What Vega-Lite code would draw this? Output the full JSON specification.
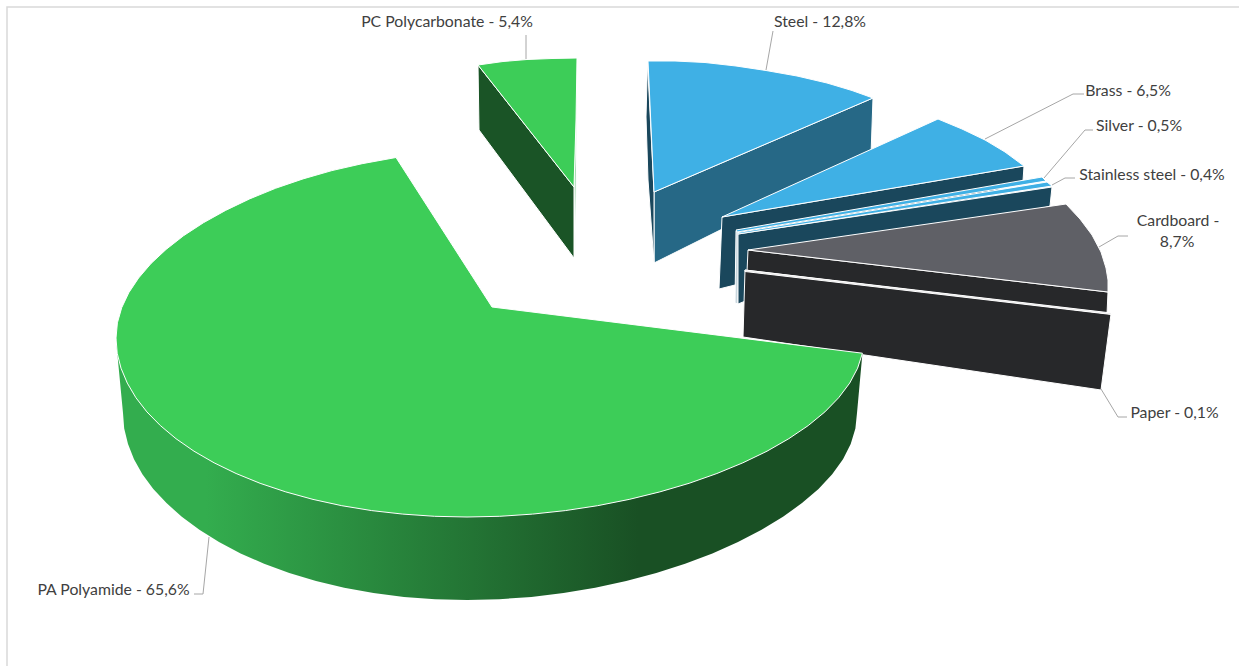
{
  "$schema": "https://vega.github.io/schema/vega-lite/v6.json",
  "width": 1239,
  "height": 666,
  "padding": 0,
  "autosize": {"type": "none"},
  "background": "white",
  "config": {"view": {"stroke": null}},
  "datasets": {
    "frame": [
      {"x": 7, "y": 666}, {"x": 7, "y": 7}, {"x": 1239, "y": 7}
    ],
    "slices": [
      {"shape": "steel side", "surface": "steel side", "x": 654, "y": 192},
      {"shape": "steel side", "surface": "steel side", "x": 873, "y": 98},
      {"shape": "steel side", "surface": "steel side", "x": 871, "y": 155},
      {"shape": "steel side", "surface": "steel side", "x": 654, "y": 263},
      {"shape": "steel side", "surface": "steel side", "x": 654, "y": 192},
      {"shape": "steel inner", "surface": "deep side", "x": 647.5, "y": 62},
      {"shape": "steel inner", "surface": "deep side", "x": 654, "y": 192},
      {"shape": "steel inner", "surface": "deep side", "x": 654, "y": 263},
      {"shape": "steel inner", "surface": "deep side", "x": 648, "y": 180},
      {"shape": "steel inner", "surface": "deep side", "x": 646, "y": 117},
      {"shape": "steel inner", "surface": "deep side", "x": 647.5, "y": 62},
      {"shape": "steel top", "surface": "blue top", "x": 648, "y": 61},
      {"shape": "steel top", "surface": "blue top", "x": 675, "y": 61},
      {"shape": "steel top", "surface": "blue top", "x": 705, "y": 62.5},
      {"shape": "steel top", "surface": "blue top", "x": 736, "y": 66},
      {"shape": "steel top", "surface": "blue top", "x": 766, "y": 70.5},
      {"shape": "steel top", "surface": "blue top", "x": 797, "y": 76},
      {"shape": "steel top", "surface": "blue top", "x": 827, "y": 83},
      {"shape": "steel top", "surface": "blue top", "x": 852, "y": 90.5},
      {"shape": "steel top", "surface": "blue top", "x": 873, "y": 98},
      {"shape": "steel top", "surface": "blue top", "x": 654, "y": 192},
      {"shape": "steel top", "surface": "blue top", "x": 648, "y": 61},
      {"shape": "brass side", "surface": "deep side", "x": 722, "y": 217},
      {"shape": "brass side", "surface": "deep side", "x": 1024, "y": 166},
      {"shape": "brass side", "surface": "deep side", "x": 1023, "y": 181},
      {"shape": "brass side", "surface": "deep side", "x": 735, "y": 285},
      {"shape": "brass side", "surface": "deep side", "x": 719, "y": 289},
      {"shape": "brass side", "surface": "deep side", "x": 722, "y": 217},
      {"shape": "brass top", "surface": "blue top", "x": 722, "y": 217},
      {"shape": "brass top", "surface": "blue top", "x": 938, "y": 119},
      {"shape": "brass top", "surface": "blue top", "x": 962, "y": 129},
      {"shape": "brass top", "surface": "blue top", "x": 985, "y": 140},
      {"shape": "brass top", "surface": "blue top", "x": 1005, "y": 152},
      {"shape": "brass top", "surface": "blue top", "x": 1024, "y": 166},
      {"shape": "brass top", "surface": "blue top", "x": 722, "y": 217},
      {"shape": "silver inner", "surface": "pale", "x": 736, "y": 231},
      {"shape": "silver inner", "surface": "pale", "x": 739, "y": 232},
      {"shape": "silver inner", "surface": "pale", "x": 738, "y": 304},
      {"shape": "silver inner", "surface": "pale", "x": 735, "y": 303},
      {"shape": "silver inner", "surface": "pale", "x": 736, "y": 231},
      {"shape": "silver top", "surface": "blue top", "x": 736, "y": 230},
      {"shape": "silver top", "surface": "blue top", "x": 1042, "y": 177},
      {"shape": "silver top", "surface": "blue top", "x": 1046, "y": 181},
      {"shape": "silver top", "surface": "blue top", "x": 737, "y": 232},
      {"shape": "silver top", "surface": "blue top", "x": 736, "y": 230},
      {"shape": "stainless side", "surface": "deep side", "x": 738, "y": 234},
      {"shape": "stainless side", "surface": "deep side", "x": 1052, "y": 187},
      {"shape": "stainless side", "surface": "deep side", "x": 1050, "y": 206},
      {"shape": "stainless side", "surface": "deep side", "x": 748, "y": 300},
      {"shape": "stainless side", "surface": "deep side", "x": 738, "y": 304},
      {"shape": "stainless side", "surface": "deep side", "x": 738, "y": 234},
      {"shape": "stainless top", "surface": "blue top", "x": 738, "y": 232.5},
      {"shape": "stainless top", "surface": "blue top", "x": 1047, "y": 182},
      {"shape": "stainless top", "surface": "blue top", "x": 1052, "y": 186},
      {"shape": "stainless top", "surface": "blue top", "x": 738, "y": 234},
      {"shape": "stainless top", "surface": "blue top", "x": 738, "y": 232.5},
      {"shape": "cardboard side", "surface": "dark side", "x": 748, "y": 250},
      {"shape": "cardboard side", "surface": "dark side", "x": 1108, "y": 292},
      {"shape": "cardboard side", "surface": "dark side", "x": 1107, "y": 314},
      {"shape": "cardboard side", "surface": "dark side", "x": 747, "y": 272},
      {"shape": "cardboard side", "surface": "dark side", "x": 748, "y": 250},
      {"shape": "cardboard top", "surface": "grey top", "x": 748, "y": 250},
      {"shape": "cardboard top", "surface": "grey top", "x": 1066, "y": 204},
      {"shape": "cardboard top", "surface": "grey top", "x": 1080, "y": 219},
      {"shape": "cardboard top", "surface": "grey top", "x": 1092, "y": 235},
      {"shape": "cardboard top", "surface": "grey top", "x": 1101, "y": 252},
      {"shape": "cardboard top", "surface": "grey top", "x": 1106, "y": 268},
      {"shape": "cardboard top", "surface": "grey top", "x": 1108, "y": 280},
      {"shape": "cardboard top", "surface": "grey top", "x": 1108, "y": 292},
      {"shape": "cardboard top", "surface": "grey top", "x": 748, "y": 250},
      {"shape": "paper side", "surface": "dark side", "x": 745, "y": 270},
      {"shape": "paper side", "surface": "dark side", "x": 1111, "y": 314},
      {"shape": "paper side", "surface": "dark side", "x": 1101, "y": 390},
      {"shape": "paper side", "surface": "dark side", "x": 743, "y": 337},
      {"shape": "paper side", "surface": "dark side", "x": 745, "y": 270},
      {"shape": "paper top", "surface": "pale grey", "x": 745, "y": 270},
      {"shape": "paper top", "surface": "pale grey", "x": 1111.5, "y": 313},
      {"shape": "paper top", "surface": "pale grey", "x": 1111.5, "y": 314.5},
      {"shape": "paper top", "surface": "pale grey", "x": 745, "y": 271.5},
      {"shape": "paper top", "surface": "pale grey", "x": 745, "y": 270},
      {"shape": "polycarbonate inner", "surface": "pale green", "x": 577, "y": 90},
      {"shape": "polycarbonate inner", "surface": "pale green", "x": 576.5, "y": 170},
      {"shape": "polycarbonate inner", "surface": "pale green", "x": 575, "y": 258},
      {"shape": "polycarbonate inner", "surface": "pale green", "x": 574, "y": 187},
      {"shape": "polycarbonate inner", "surface": "pale green", "x": 577, "y": 90},
      {"shape": "polycarbonate side", "surface": "green side", "x": 478, "y": 65},
      {"shape": "polycarbonate side", "surface": "green side", "x": 574, "y": 187},
      {"shape": "polycarbonate side", "surface": "green side", "x": 574, "y": 258},
      {"shape": "polycarbonate side", "surface": "green side", "x": 479, "y": 130},
      {"shape": "polycarbonate side", "surface": "green side", "x": 478, "y": 65},
      {"shape": "polycarbonate top", "surface": "green top", "x": 478, "y": 65},
      {"shape": "polycarbonate top", "surface": "green top", "x": 503, "y": 61.5},
      {"shape": "polycarbonate top", "surface": "green top", "x": 527, "y": 59.5},
      {"shape": "polycarbonate top", "surface": "green top", "x": 552, "y": 58.5},
      {"shape": "polycarbonate top", "surface": "green top", "x": 577, "y": 58},
      {"shape": "polycarbonate top", "surface": "green top", "x": 576, "y": 120},
      {"shape": "polycarbonate top", "surface": "green top", "x": 574, "y": 187},
      {"shape": "polycarbonate top", "surface": "green top", "x": 478, "y": 65}
    ],
    "polyamideSide": [
      {"x": 116, "y": 340}, {"x": 123, "y": 413}, {"x": 124.2, "y": 428.5}, {"x": 128, "y": 444}, {"x": 134, "y": 459.2},
      {"x": 142.4, "y": 474.3}, {"x": 153.3, "y": 488.9}, {"x": 166.5, "y": 503.1}, {"x": 181.8, "y": 516.8}, {"x": 199.4, "y": 529.8},
      {"x": 219, "y": 542.1}, {"x": 240.6, "y": 553.4}, {"x": 264.1, "y": 563.8}, {"x": 289.3, "y": 573}, {"x": 316, "y": 581},
      {"x": 344.2, "y": 587.8}, {"x": 373.5, "y": 593}, {"x": 404, "y": 596.9}, {"x": 435.2, "y": 599.2}, {"x": 467, "y": 600},
      {"x": 499.2, "y": 599.2}, {"x": 531.4, "y": 596.9}, {"x": 563.5, "y": 593}, {"x": 595.2, "y": 587.8}, {"x": 626.2, "y": 581},
      {"x": 656.3, "y": 573}, {"x": 685.1, "y": 563.8}, {"x": 712.4, "y": 553.4}, {"x": 738, "y": 542.1}, {"x": 761.6, "y": 529.8},
      {"x": 783, "y": 516.8}, {"x": 802, "y": 503.1}, {"x": 818.5, "y": 488.9}, {"x": 832.2, "y": 474.3}, {"x": 843, "y": 459.2},
      {"x": 850.7, "y": 444}, {"x": 855.4, "y": 428.5}, {"x": 857, "y": 413}, {"x": 862.5, "y": 352.5}, {"x": 116, "y": 340}
    ],
    "polyamideTop": [
      {"x": 492, "y": 307}, {"x": 862.4, "y": 353.2}, {"x": 857.6, "y": 368.2}, {"x": 849.7, "y": 383.1}, {"x": 838.7, "y": 397.7},
      {"x": 824.9, "y": 411.9}, {"x": 808.2, "y": 425.6}, {"x": 788.8, "y": 438.7}, {"x": 767, "y": 451.2}, {"x": 742.9, "y": 462.8},
      {"x": 716.9, "y": 473.5}, {"x": 689.1, "y": 483.3}, {"x": 659.8, "y": 491.9}, {"x": 629.2, "y": 499.4}, {"x": 597.6, "y": 505.7},
      {"x": 565.3, "y": 510.6}, {"x": 532.6, "y": 514.1}, {"x": 499.8, "y": 516.3}, {"x": 467, "y": 517}, {"x": 434.6, "y": 516.3},
      {"x": 402.8, "y": 514.1}, {"x": 371.7, "y": 510.6}, {"x": 341.8, "y": 505.7}, {"x": 313, "y": 499.4}, {"x": 285.8, "y": 491.9},
      {"x": 260.1, "y": 483.3}, {"x": 236.1, "y": 473.5}, {"x": 214.1, "y": 462.8}, {"x": 194, "y": 451.2}, {"x": 176, "y": 438.7},
      {"x": 160.4, "y": 425.6}, {"x": 146.9, "y": 411.9}, {"x": 135.9, "y": 397.7}, {"x": 127.3, "y": 383.1}, {"x": 121, "y": 368.2},
      {"x": 117.2, "y": 353.2}, {"x": 116, "y": 338}, {"x": 117.4, "y": 322.8}, {"x": 121.7, "y": 307.7}, {"x": 128.8, "y": 292.7},
      {"x": 138.6, "y": 278}, {"x": 151, "y": 263.5}, {"x": 166.1, "y": 249.4}, {"x": 183.6, "y": 235.7}, {"x": 203.5, "y": 222.7},
      {"x": 225.6, "y": 210.4}, {"x": 249.6, "y": 198.9}, {"x": 275.5, "y": 188.3}, {"x": 303, "y": 178.9}, {"x": 331.9, "y": 170.6},
      {"x": 362.1, "y": 163.7}, {"x": 396, "y": 157.5}, {"x": 492, "y": 307}
    ],
    "leaders": [
      {"label": "PC Polycarbonate", "x": 526, "y": 35}, {"label": "PC Polycarbonate", "x": 526, "y": 59},
      {"label": "Steel", "x": 773, "y": 31}, {"label": "Steel", "x": 766, "y": 70},
      {"label": "Brass", "x": 1084, "y": 94}, {"label": "Brass", "x": 1073, "y": 94}, {"label": "Brass", "x": 985, "y": 139},
      {"label": "Silver", "x": 1093, "y": 130}, {"label": "Silver", "x": 1085, "y": 130}, {"label": "Silver", "x": 1044, "y": 178},
      {"label": "Stainless steel", "x": 1075, "y": 178}, {"label": "Stainless steel", "x": 1065, "y": 178}, {"label": "Stainless steel", "x": 1052, "y": 185},
      {"label": "Cardboard", "x": 1128, "y": 236}, {"label": "Cardboard", "x": 1118, "y": 236}, {"label": "Cardboard", "x": 1099, "y": 247},
      {"label": "Paper", "x": 1127, "y": 417}, {"label": "Paper", "x": 1118, "y": 417}, {"label": "Paper", "x": 1101, "y": 389},
      {"label": "PA Polyamide", "x": 194, "y": 594}, {"label": "PA Polyamide", "x": 203, "y": 594}, {"label": "PA Polyamide", "x": 209, "y": 537}
    ],
    "labels": [
      {"label": "PC Polycarbonate - 5,4%", "x": 447, "y": 21},
      {"label": "Steel - 12,8%", "x": 820, "y": 21},
      {"label": "Brass - 6,5%", "x": 1128, "y": 90},
      {"label": "Silver - 0,5%", "x": 1139, "y": 125},
      {"label": "Stainless steel - 0,4%", "x": 1152, "y": 174},
      {"label": "Cardboard -", "x": 1178, "y": 220},
      {"label": "8,7%", "x": 1177, "y": 241},
      {"label": "Paper - 0,1%", "x": 1174.5, "y": 412},
      {"label": "PA Polyamide - 65,6%", "x": 113.5, "y": 589}
    ]
  },
  "encoding": {
    "x": {"field": "x", "type": "quantitative", "axis": null, "scale": {"domain": [0, 1239], "nice": false, "zero": false}},
    "y": {"field": "y", "type": "quantitative", "axis": null, "scale": {"domain": [666, 0], "nice": false, "zero": false}},
    "order": {"value": null}
  },
  "layer": [
    {
      "data": {"name": "frame"},
      "mark": {"type": "line", "stroke": "#d9d9d9", "strokeWidth": 1.5}
    },
    {
      "data": {"name": "slices"},
      "mark": {"type": "line", "stroke": "#ffffff", "strokeWidth": 1, "strokeJoin": "round"},
      "encoding": {
        "detail": {"field": "shape"},
        "fill": {
          "field": "surface",
          "type": "nominal",
          "legend": null,
          "scale": {
            "domain": ["green top", "green side", "blue top", "steel side", "deep side", "grey top", "dark side", "pale", "pale grey", "pale green"],
            "range": ["#3dcd58", "#1a5426", "#3fb0e5", "#266886", "#1a475c", "#5f6066", "#27282a", "#c8d6dd", "#e4e4e4", "#a9d8b4"]
          }
        }
      }
    },
    {
      "data": {"name": "polyamideSide"},
      "mark": {
        "type": "line",
        "strokeWidth": 0,
        "fill": {
          "x1": 0, "y1": 0, "x2": 1, "y2": 0,
          "gradient": "linear",
          "stops": [
            {"offset": 0, "color": "#33ad4e"},
            {"offset": 0.12, "color": "#33ad4e"},
            {"offset": 0.7, "color": "#195024"},
            {"offset": 1, "color": "#195024"}
          ]
        }
      }
    },
    {
      "data": {"name": "polyamideTop"},
      "mark": {"type": "line", "fill": "#3dcd58", "stroke": "#ffffff", "strokeWidth": 1, "strokeJoin": "round"}
    },
    {
      "data": {"name": "leaders"},
      "mark": {"type": "line", "stroke": "#a6a6a6", "strokeWidth": 1},
      "encoding": {"detail": {"field": "label"}}
    },
    {
      "data": {"name": "labels"},
      "mark": {"type": "text", "font": "Lato", "fontSize": 15.8, "color": "#404040", "align": "center", "baseline": "middle", "dy": 0.5},
      "encoding": {"text": {"field": "label"}}
    }
  ]
}
